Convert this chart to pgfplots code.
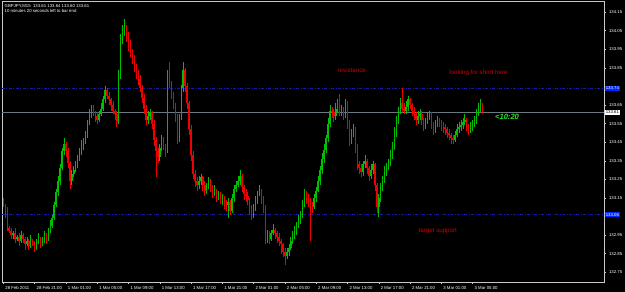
\documentclass[border=0pt]{standalone}
\usepackage{fontspec}
\setmainfont{Liberation Sans}
\usepackage{pgfplots}
\usepackage{pgfplotstable}
\pgfplotsset{compat=1.18}
\definecolor{upcol}{RGB}{0,190,0}
\definecolor{dncol}{RGB}{240,0,0}
\definecolor{framecol}{RGB}{200,200,200}
\definecolor{lvlblue}{RGB}{25,25,170}
\definecolor{lblblue}{RGB}{0,40,250}
\definecolor{curgray}{RGB}{110,120,130}
\definecolor{notered}{RGB}{210,0,0}
\definecolor{timegreen}{RGB}{40,235,40}
\pgfplotstableread{
i o h l c
0 133.13 133.15 133.10 133.11
1 133.11 133.12 133.04 133.07
2 133.07 133.10 132.97 132.99
3 132.99 133.00 132.96 132.97
4 132.97 132.99 132.93 132.95
5 132.95 132.97 132.93 132.96
6 132.96 132.99 132.91 132.93
7 132.93 132.95 132.92 132.94
8 132.94 132.96 132.89 132.92
9 132.92 132.97 132.91 132.95
10 132.95 132.96 132.91 132.93
11 132.93 132.94 132.87 132.90
12 132.90 132.94 132.89 132.92
13 132.92 132.93 132.87 132.89
14 132.89 132.95 132.88 132.92
15 132.92 132.93 132.89 132.91
16 132.91 132.92 132.86 132.88
17 132.88 132.93 132.87 132.91
18 132.91 132.96 132.90 132.93
19 132.93 132.94 132.88 132.90
20 132.90 132.94 132.89 132.92
21 132.92 132.97 132.91 132.95
22 132.95 132.96 132.90 132.93
23 132.93 132.99 132.92 132.97
24 132.97 133.03 132.96 133.00
25 133.00 133.06 132.99 133.04
26 133.04 133.13 133.03 133.11
27 133.11 133.20 133.10 133.18
28 133.18 133.27 133.16 133.24
29 133.24 133.33 133.22 133.31
30 133.31 133.42 133.30 133.40
31 133.40 133.47 133.38 133.44
32 133.44 133.45 133.37 133.40
33 133.40 133.42 133.31 133.34
34 133.34 133.35 133.20 133.24
35 133.24 133.30 133.22 133.28
36 133.28 133.32 133.26 133.30
37 133.30 133.35 133.29 133.33
38 133.33 133.38 133.31 133.36
39 133.36 133.42 133.35 133.40
40 133.40 133.46 133.38 133.43
41 133.43 133.47 133.41 133.45
42 133.45 133.51 133.44 133.49
43 133.49 133.57 133.47 133.55
44 133.55 133.63 133.54 133.60
45 133.60 133.65 133.58 133.63
46 133.63 133.65 133.59 133.61
47 133.61 133.62 133.56 133.59
48 133.59 133.61 133.55 133.57
49 133.57 133.62 133.56 133.60
50 133.60 133.66 133.59 133.63
51 133.63 133.70 133.62 133.68
52 133.68 133.75 133.66 133.73
53 133.73 133.74 133.68 133.70
54 133.70 133.72 133.65 133.68
55 133.68 133.69 133.62 133.65
56 133.65 133.67 133.60 133.62
57 133.62 133.63 133.57 133.60
58 133.60 133.62 133.53 133.56
59 133.56 133.84 133.55 133.81
60 133.81 134.03 133.79 134.00
61 134.00 134.08 133.98 134.04
62 134.04 134.11 134.02 134.06
63 134.06 134.08 133.99 134.01
64 134.01 134.04 133.94 133.97
65 133.97 134.00 133.91 133.93
66 133.93 133.95 133.87 133.90
67 133.90 133.92 133.83 133.85
68 133.85 133.87 133.79 133.82
69 133.82 133.84 133.76 133.79
70 133.79 133.81 133.72 133.74
71 133.74 133.76 133.66 133.69
72 133.69 133.71 133.60 133.63
73 133.63 133.65 133.54 133.57
74 133.57 133.62 133.55 133.59
75 133.59 133.63 133.57 133.61
76 133.61 133.62 133.52 133.55
77 133.55 133.57 133.43 133.46
78 133.46 133.48 133.26 133.40
79 133.40 133.42 133.34 133.37
80 133.37 133.44 133.35 133.42
81 133.42 133.49 133.40 133.46
82 133.46 133.48 133.41 133.43
83 133.43 133.44 133.37 133.40
84 133.40 133.84 133.39 133.80
85 133.80 133.88 133.74 133.76
86 133.76 133.78 133.68 133.70
87 133.70 133.72 133.63 133.65
88 133.65 133.66 133.56 133.59
89 133.59 133.60 133.44 133.47
90 133.47 133.60 133.45 133.58
91 133.58 133.76 133.57 133.74
92 133.74 133.88 133.72 133.84
93 133.84 133.85 133.72 133.75
94 133.75 133.77 133.63 133.66
95 133.66 133.67 133.49 133.52
96 133.52 133.54 133.35 133.38
97 133.38 133.40 133.25 133.28
98 133.28 133.30 133.21 133.24
99 133.24 133.26 133.19 133.22
100 133.22 133.27 133.20 133.24
101 133.24 133.28 133.22 133.26
102 133.26 133.27 133.19 133.22
103 133.22 133.24 133.16 133.19
104 133.19 133.23 133.17 133.21
105 133.21 133.26 133.20 133.24
106 133.24 133.25 133.18 133.21
107 133.21 133.22 133.15 133.18
108 133.18 133.22 133.16 133.19
109 133.19 133.20 133.13 133.16
110 133.16 133.19 133.14 133.17
111 133.17 133.18 133.12 133.14
112 133.14 133.17 133.11 133.15
113 133.15 133.16 133.09 133.12
114 133.12 133.14 133.08 133.11
115 133.11 133.15 133.04 133.13
116 133.13 133.14 133.06 133.08
117 133.08 133.17 133.07 133.15
118 133.15 133.22 133.13 133.20
119 133.20 133.24 133.18 133.22
120 133.22 133.27 133.21 133.24
121 133.24 133.30 133.22 133.27
122 133.27 133.28 133.18 133.21
123 133.21 133.22 133.14 133.17
124 133.17 133.20 133.13 133.16
125 133.16 133.18 133.11 133.14
126 133.14 133.15 133.06 133.09
127 133.09 133.11 133.03 133.06
128 133.06 133.12 133.04 133.10
129 133.10 133.16 133.08 133.14
130 133.14 133.19 133.12 133.17
131 133.17 133.22 133.16 133.19
132 133.19 133.20 133.12 133.15
133 133.15 133.16 133.07 133.10
134 133.10 133.11 132.90 132.93
135 132.93 132.98 132.91 132.95
136 132.95 132.97 132.90 132.93
137 132.93 132.98 132.92 132.96
138 132.96 133.01 132.95 132.98
139 132.98 132.99 132.93 132.96
140 132.96 132.97 132.91 132.94
141 132.94 132.96 132.89 132.92
142 132.92 132.93 132.85 132.90
143 132.90 132.91 132.83 132.86
144 132.86 132.88 132.79 132.84
145 132.84 132.88 132.82 132.86
146 132.86 132.90 132.84 132.88
147 132.88 132.94 132.87 132.92
148 132.92 132.97 132.90 132.95
149 132.95 133.00 132.93 132.97
150 132.97 133.02 132.95 133.00
151 133.00 133.06 132.99 133.03
152 133.03 133.08 133.01 133.06
153 133.06 133.14 133.04 133.12
154 133.12 133.20 133.10 133.17
155 133.17 133.19 133.12 133.15
156 133.15 133.17 133.10 133.13
157 133.13 133.15 132.92 133.11
158 133.11 133.13 133.07 133.10
159 133.10 133.17 133.09 133.15
160 133.15 133.21 133.13 133.19
161 133.19 133.27 133.18 133.24
162 133.24 133.32 133.22 133.30
163 133.30 133.39 133.28 133.36
164 133.36 133.44 133.34 133.41
165 133.41 133.49 133.39 133.47
166 133.47 133.58 133.45 133.55
167 133.55 133.65 133.53 133.62
168 133.62 133.64 133.58 133.61
169 133.61 133.63 133.56 133.59
170 133.59 133.66 133.57 133.63
171 133.63 133.68 133.61 133.66
172 133.66 133.71 133.59 133.61
173 133.61 133.65 133.59 133.63
174 133.63 133.64 133.57 133.60
175 133.60 133.68 133.58 133.65
176 133.65 133.67 133.52 133.55
177 133.55 133.57 133.43 133.46
178 133.46 133.52 133.44 133.50
179 133.50 133.55 133.48 133.52
180 133.52 133.53 133.39 133.42
181 133.42 133.44 133.30 133.33
182 133.33 133.35 133.28 133.31
183 133.31 133.33 133.26 133.29
184 133.29 133.35 133.27 133.33
185 133.33 133.38 133.31 133.35
186 133.35 133.36 133.28 133.31
187 133.31 133.32 133.24 133.27
188 133.27 133.33 133.25 133.30
189 133.30 133.35 133.28 133.33
190 133.33 133.34 133.19 133.22
191 133.22 133.23 133.07 133.10
192 133.10 133.17 133.05 133.15
193 133.15 133.23 133.13 133.21
194 133.21 133.27 133.19 133.25
195 133.25 133.32 133.23 133.29
196 133.29 133.34 133.27 133.31
197 133.31 133.36 133.30 133.34
198 133.34 133.41 133.32 133.38
199 133.38 133.45 133.36 133.43
200 133.43 133.53 133.41 133.50
201 133.50 133.59 133.48 133.57
202 133.57 133.64 133.55 133.62
203 133.62 133.69 133.60 133.66
204 133.66 133.74 133.61 133.63
205 133.63 133.66 133.60 133.62
206 133.62 133.67 133.60 133.64
207 133.64 133.70 133.62 133.68
208 133.68 133.69 133.63 133.65
209 133.65 133.66 133.59 133.62
210 133.62 133.64 133.57 133.60
211 133.60 133.61 133.54 133.57
212 133.57 133.62 133.55 133.59
213 133.59 133.63 133.57 133.60
214 133.60 133.62 133.54 133.57
215 133.57 133.58 133.51 133.54
216 133.54 133.58 133.52 133.56
217 133.56 133.61 133.55 133.58
218 133.58 133.62 133.57 133.60
219 133.60 133.61 133.52 133.55
220 133.55 133.56 133.49 133.52
221 133.52 133.57 133.50 133.55
222 133.55 133.59 133.53 133.57
223 133.57 133.58 133.53 133.55
224 133.55 133.57 133.51 133.54
225 133.54 133.56 133.50 133.53
226 133.53 133.55 133.49 133.52
227 133.52 133.53 133.47 133.50
228 133.50 133.52 133.46 133.49
229 133.49 133.50 133.44 133.47
230 133.47 133.49 133.44 133.46
231 133.46 133.51 133.45 133.49
232 133.49 133.55 133.48 133.52
233 133.52 133.56 133.50 133.53
234 133.53 133.57 133.51 133.54
235 133.54 133.58 133.52 133.56
236 133.56 133.60 133.54 133.57
237 133.57 133.58 133.51 133.54
238 133.54 133.55 133.49 133.52
239 133.52 133.56 133.50 133.53
240 133.53 133.57 133.51 133.54
241 133.54 133.59 133.53 133.57
242 133.57 133.63 133.55 133.60
243 133.60 133.66 133.59 133.63
244 133.63 133.68 133.61 133.65
245 133.65 133.66 133.60 133.61
}\ohlc
\newcommand{\mtfont}{\fontsize{4.3}{5}\selectfont}
\begin{document}
\begin{tikzpicture}
\fill[black] (0,0) rectangle (625pt,292pt);
\begin{axis}[
  at={(2pt,10pt)}, anchor=south west,
  scale only axis, width=602pt, height=280.5pt,
  xmin=-0.7, xmax=307.2, ymin=132.698, ymax=134.2065,
  clip=false,
  axis line style={draw=framecol, line width=0.8pt},
  tick style={draw=framecol, line width=0.5pt},
  major tick length=2pt, tick align=outside,
  ytick pos=right, xtick pos=bottom,
  ytick={132.75,132.85,132.95,133.15,133.25,133.35,133.45,133.55,133.65,133.85,133.95,134.05,134.15},
  yticklabel style={font=\mtfont, text=white, xshift=-0.5pt,
    /pgf/number format/.cd, fixed, fixed zerofill, precision=2, assume math mode=true},
  xtick={0,16,32,48,64,80,96,112,128,144,160,176,192,208,224,240},
  xticklabels={28 Feb 2011,28 Feb 21:00,1 Mar 01:00,1 Mar 05:00,1 Mar 09:00,1 Mar 13:00,1 Mar 17:00,1 Mar 21:00,2 Mar 01:00,2 Mar 05:00,2 Mar 09:00,2 Mar 13:00,2 Mar 17:00,2 Mar 21:00,3 Mar 01:00,3 Mar 05:00},
  xticklabel style={font=\mtfont, text=white, anchor=north west, xshift=-1.5pt, yshift=1pt},
]
% level lines
\addplot[lvlblue, line width=0.9pt, dash pattern=on 3pt off 1.5pt on 1pt off 1.5pt] coordinates {(-0.7,133.74) (307.2,133.74)};
\addplot[lvlblue, line width=0.9pt, dash pattern=on 3pt off 1.5pt on 1pt off 1.5pt] coordinates {(-0.7,133.06) (307.2,133.06)};
\addplot[curgray, line width=0.8pt] coordinates {(-0.7,133.61) (307.2,133.61)};
% candles, one per table row
\pgfplotstablegetrowsof{\ohlc}
\pgfmathtruncatemacro{\lastrow}{\pgfplotsretval-1}
\pgfplotsforeachungrouped \k in {0,...,\lastrow}{%
  \pgfplotstablegetelem{\k}{i}\of\ohlc \let\vi\pgfplotsretval
  \pgfplotstablegetelem{\k}{o}\of\ohlc \let\vo\pgfplotsretval
  \pgfplotstablegetelem{\k}{h}\of\ohlc \let\vh\pgfplotsretval
  \pgfplotstablegetelem{\k}{l}\of\ohlc \let\vl\pgfplotsretval
  \pgfplotstablegetelem{\k}{c}\of\ohlc \let\vc\pgfplotsretval
  \pgfmathparse{\vc>=\vo ? 1 : 0}%
  \ifdim\pgfmathresult pt>0.5pt \def\cc{upcol}\else\def\cc{dncol}\fi
  \edef\tmp{\noexpand\addplot[\cc, line width=0.6pt, forget plot] coordinates {(\vi,\vl) (\vi,\vh)};
    \noexpand\addplot[\cc, line width=1.5pt, forget plot] coordinates {(\vi,\vo) (\vi,\vc)};}%
  \tmp
}
% notes
\node[font=\fontsize{6.2}{7}\selectfont, text=notered] at (axis cs:178.2,133.834) {resistance};
\node[font=\fontsize{6.2}{7}\selectfont, text=notered] at (axis cs:243.0,133.820) {looking for short here};
\node[font=\fontsize{6.2}{7}\selectfont, text=notered] at (axis cs:222.2,132.969) {target support};
\node[font=\fontsize{7.6}{9}\selectfont\bfseries\itshape, text=timegreen] at (axis cs:257.6,133.584) {<10:20};
% right price labels
\node[anchor=west, fill=lblblue, text=white, inner xsep=0.8pt, inner ysep=0.8pt, font=\mtfont, xshift=0.8pt] at (axis cs:307.2,133.74) {133.74};
\node[anchor=west, fill=lblblue, text=white, inner xsep=0.8pt, inner ysep=0.8pt, font=\mtfont, xshift=0.8pt] at (axis cs:307.2,133.06) {133.06};
\node[anchor=west, fill=white, text=black, inner xsep=0.8pt, inner ysep=0.8pt, font=\mtfont, xshift=0.8pt] at (axis cs:307.2,133.61) {133.61};
% header
\node[anchor=north west, text=white, font=\mtfont, inner sep=0pt] at ([xshift=2.5pt,yshift=-2.5pt]rel axis cs:0,1) {GBPJPY,M15\ \ 133.61 133.64 133.60 133.61};
\node[anchor=north west, text=white, font=\mtfont, inner sep=0pt] at ([xshift=2.5pt,yshift=-7.5pt]rel axis cs:0,1) {10 minutes 20 seconds left to bar end};
\end{axis}
\pgfresetboundingbox
\useasboundingbox (0,0) rectangle (625pt,292pt);
\end{tikzpicture}
\end{document}
